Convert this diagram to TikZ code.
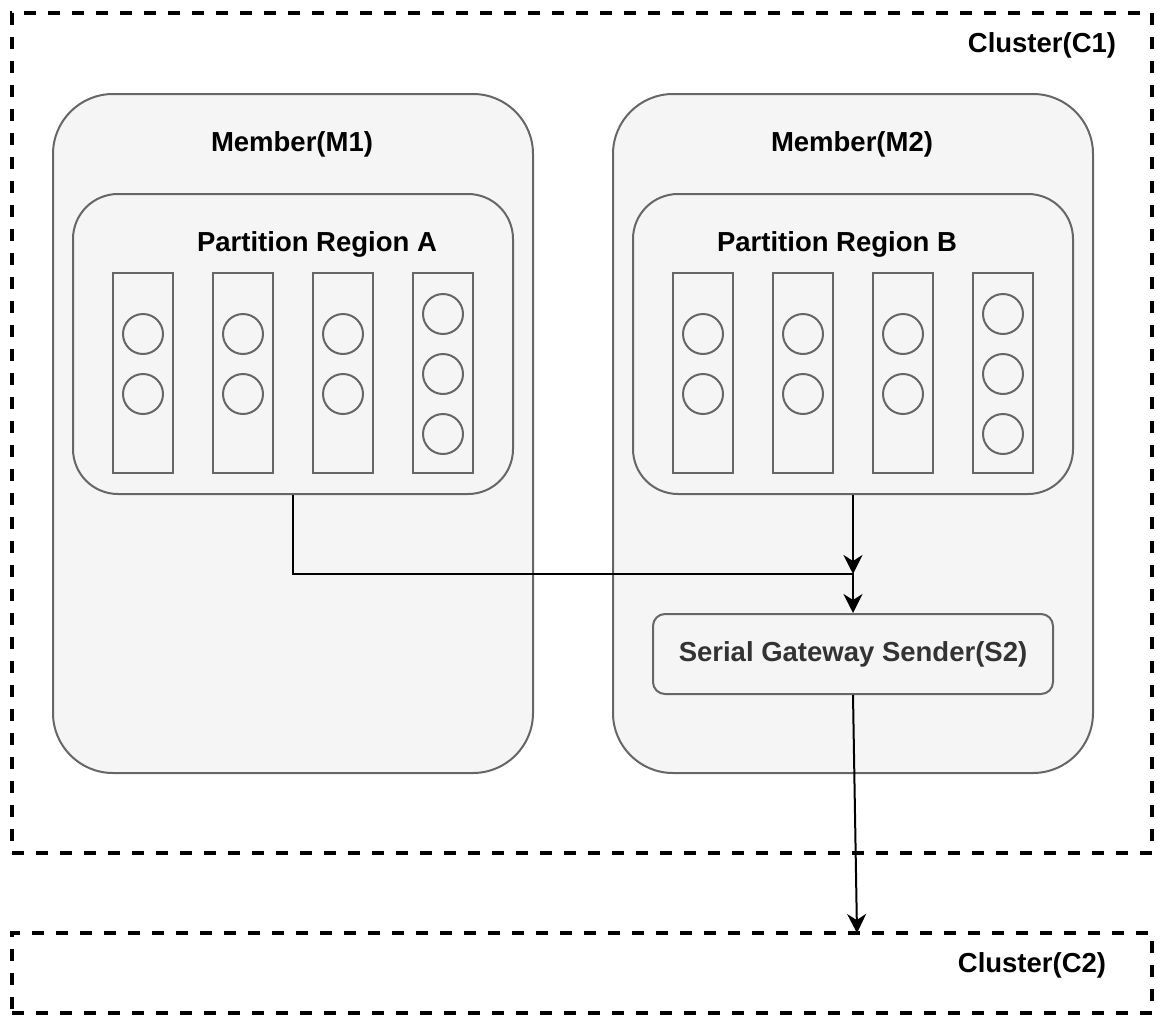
\documentclass[tikz,border=0pt]{standalone}
\usepackage{fontspec}
\setmainfont{Liberation Sans}
\usetikzlibrary{positioning}
\usetikzlibrary{arrows.meta}

\definecolor{boxfill}{HTML}{F5F5F5}
\definecolor{boxline}{HTML}{666666}
\definecolor{sendtext}{HTML}{333333}

\tikzset{
  cluster/.style={draw, line width=3.5pt, dash pattern=on 12pt off 12pt, inner sep=0pt, minimum width=1140pt},
  member/.style={draw=boxline, fill=boxfill, line width=2pt, rounded corners=60pt, inner sep=0pt, minimum width=480pt, minimum height=679pt},
  region/.style={draw=boxline, fill=boxfill, line width=2pt, rounded corners=45pt, inner sep=0pt, minimum width=440pt, minimum height=300pt},
  slot/.style={draw=boxline, line width=2pt, inner sep=0pt, minimum width=60pt, minimum height=200pt},
  item/.style={circle, draw=boxline, line width=2pt, inner sep=0pt, minimum size=40pt},
  sender/.style={draw=boxline, fill=boxfill, line width=2pt, rounded corners=12pt, inner sep=0pt, minimum width=400pt, minimum height=80pt, text=sendtext},
  title/.style={font=\fontsize{27.5}{33}\selectfont\bfseries, inner sep=0pt},
  flow/.style={line width=2pt, -{Stealth[length=19pt, width=19pt, inset=6pt]}}
}

\begin{document}
\begin{tikzpicture}[x=1pt, y=-1pt]
  \useasboundingbox (0,0) rectangle (1172,1028);

  % clusters
  \node[cluster, minimum height=840pt] (c1) at (582,433) {};
  \node[cluster, minimum height=80pt] (c2) at (582,973) {};
  \node[title] (lblc1) at (1042,45) {Cluster(C1)};
  \node[title] (lblc2) at (1032,965) {Cluster(C2)};

  % members
  \node[member] (m1) at (293,433.5) {};
  \node[member] (m2) at (853,433.5) {};
  \node[title] (lblm1) at (292,144) {Member(M1)};
  \node[title] (lblm2) at (852,144) {Member(M2)};

  % partition regions
  \node[region] (pa) at (293,344) {};
  \node[region] (pb) at (853,344) {};
  \node[title] (lblpa) at (317,244) {Partition Region A};
  \node[title] (lblpb) at (837,244) {Partition Region B};

  % buckets with entries
  \foreach \r/\dx in {a/0,b/560}
  {
    \foreach \i in {1,...,3}
    {
      \node[slot] (\r\i) at ({43+100*\i+\dx},373) {};
      \node[item] (\r\i e1) at ({43+100*\i+\dx},334) {};
      \node[item] (\r\i e2) at ({43+100*\i+\dx},394) {};
    }
    \node[slot] (\r4) at ({443+\dx},373) {};
    \foreach \j/\y in {1/314,2/374,3/434}
      {\node[item] (\r4e\j) at ({443+\dx},\y) {};}
  }

  % gateway sender
  \node[sender, title] (s2) at (853,654) {Serial Gateway Sender(S2)};

  \coordinate (join) at (853,574);
  \coordinate (c2in) at (857,933);

  \draw[flow, line width=2.5pt] (pb.south) -- (join);
  \draw[flow] (pa.south) |- (join) -- (s2.north);
  \draw[flow] (s2.south) -- (c2in);
\end{tikzpicture}
\end{document}
